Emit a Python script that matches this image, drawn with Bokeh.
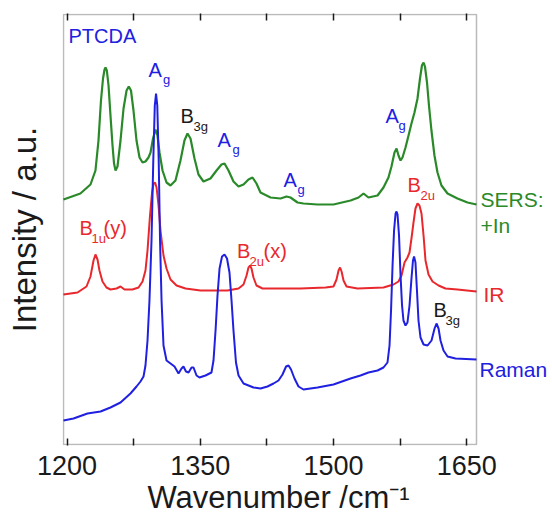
from bokeh.plotting import figure
from bokeh.models import (Label, LinearAxis, FixedTicker, Range1d, BoxAnnotation, Title,
                          CustomLabelingPolicy)
from bokeh.embed import file_html
from bokeh.resources import INLINE

# ---------------- data (arbitrary stacked intensity units) -------------
sers_wn = [1196.0, 1215.0, 1226.4, 1232.0, 1235.4, 1238.2, 1240.5, 1242.2, 1243.3, 1244.8, 1246.7,
           1248.9, 1251.2, 1252.9, 1254.6, 1256.8, 1260.2, 1263.6, 1267.0, 1269.5, 1272.0, 1274.8,
           1278.2, 1281.6, 1285.0, 1288.3, 1291.7, 1294.0, 1296.8, 1299.6, 1301.8, 1304.1, 1307.5,
           1312.0, 1316.5, 1322.1, 1327.7, 1332.2, 1335.6, 1339.0, 1343.5, 1348.0, 1353.6, 1361.5,
           1368.3, 1373.9, 1377.3, 1381.8, 1387.4, 1393.1, 1398.7, 1404.3, 1408.8, 1413.3, 1417.8,
           1429.1, 1440.4, 1447.1, 1451.6, 1459.5, 1466.2, 1482.0, 1500.0, 1519.2, 1528.2, 1533.8,
           1539.4, 1549.6, 1556.3, 1561.9, 1565.3, 1568.7, 1571.0, 1573.2, 1575.5, 1577.7, 1581.1,
           1584.5, 1587.8, 1591.2, 1594.6, 1597.4, 1599.6, 1601.4, 1603.0, 1605.3, 1607.5, 1610.3,
           1613.7, 1617.1, 1621.6, 1628.4, 1639.6, 1650.9, 1661.0]
sers_int = [245, 251, 260, 274, 304, 344, 366, 375, 377, 374, 359,
            329, 299, 281, 274, 278, 304, 336, 354, 358, 354, 334,
            304, 287, 282, 283, 287, 292, 306, 315, 309, 292, 274,
            262, 259, 264, 284, 304, 311, 306, 286, 270, 263, 266,
            274, 280, 281, 274, 263, 258, 260, 265, 267, 261, 252,
            247, 246, 248, 247, 242, 241, 240, 240, 244, 247, 251,
            247, 249, 257, 267, 278, 292, 296, 289, 284, 287, 297,
            309, 321, 332, 346, 366, 379, 382, 378, 362, 339, 314,
            289, 272, 259, 251, 246, 242, 240]

ir_wn = [1196.0, 1211.8, 1221.9, 1226.4, 1229.8, 1232.0, 1234.3, 1236.5, 1239.9, 1244.4, 1248.9,
         1255.7, 1260.2, 1264.7, 1273.7, 1280.5, 1285.0, 1288.3, 1290.6, 1293.4, 1295.7, 1297.4,
         1299.1, 1300.8, 1303.0, 1305.2, 1308.6, 1312.0, 1316.5, 1323.3, 1333.4, 1350.3, 1380.7,
         1393.1, 1398.7, 1402.1, 1404.3, 1406.0, 1407.7, 1409.9, 1413.3, 1420.1, 1434.7, 1462.9,
         1491.0, 1500.0, 1503.4, 1505.7, 1507.4, 1509.1, 1511.3, 1514.7, 1527.0, 1556.3, 1567.6,
         1573.2, 1576.6, 1580.0, 1583.3, 1585.6, 1587.8, 1590.1, 1592.3, 1594.6, 1596.8, 1599.1,
         1601.4, 1603.6, 1607.0, 1611.5, 1618.3, 1626.1, 1639.6, 1661.0]
ir_int = [150, 152, 158, 168, 184, 190, 185, 174, 163, 157, 155,
          156, 158, 155, 155, 157, 163, 174, 194, 229, 252, 261,
          262, 257, 239, 214, 189, 176, 165, 159, 156, 154, 154,
          156, 160, 169, 177, 179, 176, 167, 159, 156, 156, 156,
          157, 158, 165, 174, 177, 173, 164, 158, 156, 157, 160,
          163, 169, 182, 187, 192, 206, 222, 236, 241, 239, 231,
          209, 184, 170, 163, 159, 156, 155, 153]

raman_wn = [1196.0, 1207.3, 1223.0, 1237.7, 1248.9, 1260.2, 1271.4, 1278.2, 1282.7, 1286.1, 1288.3,
            1290.6, 1292.8, 1295.1, 1297.1, 1298.8, 1300.2, 1301.6, 1303.2, 1304.7, 1306.4, 1308.6,
            1312.0, 1316.5, 1321.0, 1325.5, 1328.9, 1331.1, 1333.9, 1336.8, 1340.2, 1342.4, 1345.8,
            1349.1, 1355.9, 1362.6, 1364.9, 1367.2, 1369.4, 1371.7, 1374.5, 1377.3, 1380.1, 1382.9,
            1385.2, 1387.4, 1390.2, 1393.1, 1398.7, 1410.0, 1417.8, 1425.7, 1432.5, 1438.1, 1442.6,
            1446.6, 1449.4, 1452.2, 1456.1, 1460.6, 1466.2, 1482.0, 1500.0, 1519.2, 1530.4, 1539.4,
            1549.6, 1556.3, 1560.8, 1563.1, 1564.8, 1566.5, 1568.2, 1569.9, 1571.0, 1572.1, 1573.8,
            1575.5, 1577.2, 1578.8, 1581.1, 1583.3, 1585.6, 1587.8, 1589.5, 1590.7, 1592.3, 1594.0,
            1595.7, 1598.0, 1601.4, 1605.9, 1610.4, 1613.8, 1616.0, 1618.3, 1620.5, 1623.9, 1628.4,
            1637.4, 1661.0]
raman_int = [24, 26, 31, 33, 37, 42, 51, 58, 63, 68, 79,
             104, 144, 204, 284, 339, 351, 339, 284, 204, 144, 99,
             84, 81, 78, 71, 76, 78, 73, 72, 77, 77, 69,
             67, 69, 72, 84, 114, 149, 176, 188, 190, 186, 172,
             144, 114, 82, 69, 61, 57, 56, 58, 61, 64, 70,
             78, 79, 75, 66, 58, 55, 57, 60, 66, 69, 72,
             74, 77, 82, 99, 134, 179, 214, 231, 233, 230, 209,
             169, 139, 124, 119, 122, 139, 166, 184, 188, 182, 154,
             124, 107, 100, 99, 104, 116, 121, 116, 104, 94, 88,
             86, 85]

tick_values = [1200, 1350, 1500, 1650]
minor_tick_values = [1275, 1425, 1575]

X_START, X_END = 1196, 1661      # axis box limits
Y_START, Y_END = 0, 430

GREEN = "#2a8a2a"
RED = "#e8282d"
BLUE = "#2020e0"
INK = "#1a1a1a"
FONT = "Liberation Sans"

# the frame extends to the right edge so that the curve names beside the box can be drawn
p = figure(width=552, height=518, output_backend="svg", toolbar_location=None,
           x_range=Range1d(1194.874, 1746.6), y_range=Range1d(-1, 431),
           min_border_left=62, min_border_right=0, min_border_top=13, min_border_bottom=73)
p.background_fill_color = "white"
p.border_fill_color = "white"
p.outline_line_color = None
p.xgrid.visible = False
p.ygrid.visible = False

# frame box of the chart
p.add_layout(BoxAnnotation(left=X_START, right=X_END, bottom=Y_START, top=Y_END,
                           fill_color=None, line_color=INK, line_width=1.5))

ticker = FixedTicker(ticks=tick_values, minor_ticks=minor_tick_values)
xa = p.xaxis[0]
xa.ticker = ticker
xa.axis_line_color = None
xa.major_tick_in = 7
xa.major_tick_out = 0
xa.minor_tick_in = 7
xa.minor_tick_out = 0
xa.major_tick_line_color = INK
xa.minor_tick_line_color = INK
xa.major_tick_line_width = 1.5
xa.minor_tick_line_width = 1.5
xa.major_label_text_font = FONT
xa.major_label_text_font_size = "27px"
xa.major_label_text_color = INK
xa.major_label_standoff = 10

# x-axis title placed under the tick labels, aligned to the box
p.add_layout(Title(text="Wavenumber /cm\u207b\u00b9", align="left", offset=85, standoff=0,
                   text_font=FONT, text_font_size="31px", text_font_style="normal",
                   text_color=INK), "below")

ya = p.yaxis[0]
ya.ticker = FixedTicker(ticks=[])
ya.axis_line_color = None
ya.major_tick_out = 0
ya.major_tick_in = 0
ya.minor_tick_out = 0
ya.minor_tick_in = 0
ya.major_label_standoff = 0
ya.axis_label = "Intensity / a.u."
ya.axis_label_text_font = FONT
ya.axis_label_text_font_size = "33px"
ya.axis_label_text_font_style = "normal"
ya.axis_label_text_color = INK
ya.axis_label_standoff = 20

no_labels = CustomLabelingPolicy(code="""
for (const i of indices) { indices.unset(i) }
return indices
""")
top = LinearAxis(ticker=ticker, major_tick_in=7, major_tick_out=0, minor_tick_in=7, minor_tick_out=0,
                 major_tick_line_color=INK, minor_tick_line_color=INK,
                 major_tick_line_width=1.5, minor_tick_line_width=1.5,
                 axis_line_color=None, major_label_text_font_size="1px", major_label_standoff=0,
                 major_label_policy=no_labels)
p.add_layout(top, "above")

p.line(sers_wn, sers_int, line_color=GREEN, line_width=2.2)
p.line(ir_wn, ir_int, line_color=RED, line_width=2.0)
p.line(raman_wn, raman_int, line_color=BLUE, line_width=2.0)


def lab(x, y, text, color, size):
    p.add_layout(Label(x=x, y=y, text=text, text_color=color, text_font=FONT,
                       text_font_size=f"{size}px", text_align="left",
                       text_baseline="alphabetic"))


MAIN = 20
SUB = 13
lab(1201.6, 409, "PTCDA", BLUE, MAIN)
lab(1291.7, 375, "A", BLUE, MAIN); lab(1308.0, 365, "g", BLUE, SUB)
lab(1327.7, 329, "B", INK, MAIN); lab(1342.4, 318, "3g", INK, SUB)
lab(1369.4, 305, "A", BLUE, MAIN); lab(1386.3, 295, "g", BLUE, SUB)
lab(1443.7, 265, "A", BLUE, MAIN); lab(1459.5, 255, "g", BLUE, SUB)
lab(1558.6, 329, "A", BLUE, MAIN); lab(1573.2, 319, "g", BLUE, SUB)
lab(1583.3, 260, "B", RED, MAIN); lab(1598.0, 249, "2u", RED, SUB)
lab(1214.0, 217, "B", RED, MAIN); lab(1227.5, 206, "1u", RED, SUB); lab(1241.0, 217, "(y)", RED, MAIN)
lab(1391.4, 194, "B", RED, MAIN); lab(1405.4, 183, "2u", RED, SUB); lab(1421.2, 194, "(x)", RED, MAIN)
lab(1612.6, 135, "B", INK, MAIN); lab(1626.1, 124, "3g", INK, SUB)
lab(1665.5, 245, "SERS:", GREEN, 21)
lab(1665.5, 219, "+In", GREEN, 21)
lab(1668.9, 150, "IR", RED, 21)
lab(1664.4, 75, "Raman", BLUE, 21)

open("out.html", "w").write(file_html(p, INLINE))
